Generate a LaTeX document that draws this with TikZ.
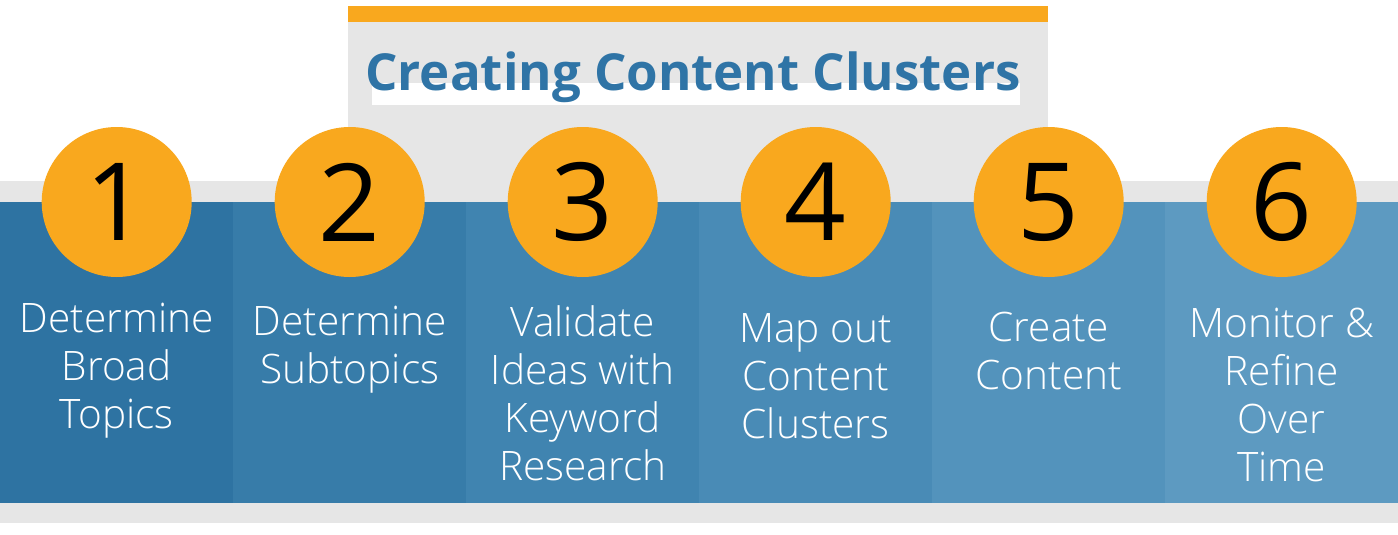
\documentclass[tikz,border=0pt]{standalone}
\usepackage{fontspec}
\setmainfont{Open Sans}
\newfontfamily\lightfont{Open Sans Light}
\usetikzlibrary{positioning}
\definecolor{stepOrange}{HTML}{F9A81E}
\definecolor{bandGray}{HTML}{E6E6E6}
\definecolor{titleBlue}{HTML}{2F74A6}
\definecolor{stepA}{HTML}{2E73A2}
\definecolor{stepB}{HTML}{377CA9}
\definecolor{stepC}{HTML}{4084B0}
\definecolor{stepD}{HTML}{498BB6}
\definecolor{stepE}{HTML}{5393BC}
\definecolor{stepF}{HTML}{5D9AC1}
\begin{document}
\begin{tikzpicture}[
  x=1pt, y=-1pt,
  panel box/.style={inner sep=0pt, minimum width=233pt, minimum height=301pt, anchor=north west},
  num circle/.style={circle, fill=stepOrange, minimum size=150pt, inner sep=0pt,
    font=\fontsize{108}{108}\selectfont},
  step text/.style={text=white, align=center, inner sep=0pt, anchor=north,
    font=\lightfont\fontsize{40.6}{48}\selectfont},
  title text/.style={text=titleBlue, inner sep=0pt, anchor=base,
    font=\fontsize{51}{60}\selectfont\bfseries}
  ]
  \useasboundingbox[fill=white] (0,0) rectangle (1398,535);
  % grey band and title box
  \fill[bandGray] (0,181) rectangle (1398,523);
  \fill[bandGray] (348,22) rectangle (1048,181);
  \fill[stepOrange] (348,6) rectangle (1048,22);
  \fill[white] (372,83) rectangle (1020,105);
  \node[title text] (title) at (693,91) {Creating Content Clusters};
  \newcommand{\drawstep}[5]{
    \node[panel box, fill=#3] (panel#1) at (#2,202) {};
    \node[num circle] (circ#1) at (panel#1.north) {#1};
    \node[step text, below=#5pt of panel#1.north] (label#1) {#4};
  }
  \drawstep{1}{0}{stepA}{Determine\\Broad\\Topics}{101}
  \drawstep{2}{233}{stepB}{Determine\\Subtopics}{104}
  \drawstep{3}{466}{stepC}{Validate\\Ideas with\\Keyword\\Research}{103}
  \drawstep{4}{699}{stepD}{Map out\\Content\\Clusters}{111}
  \drawstep{5}{932}{stepE}{Create\\Content}{110}
  \drawstep{6}{1165}{stepF}{Monitor \&\\Refine\\Over\\Time}{106}
\end{tikzpicture}
\end{document}
